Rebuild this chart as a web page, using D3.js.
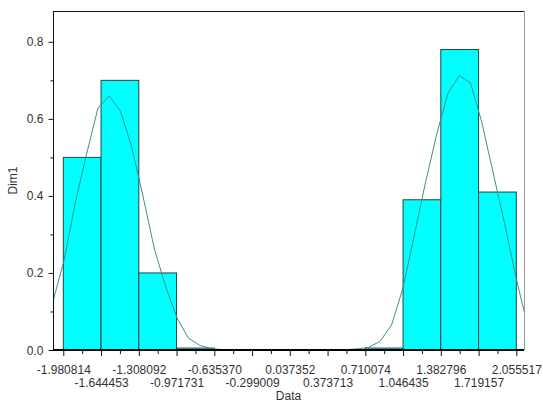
<!DOCTYPE html>
<html><head><meta charset="utf-8">
<script src="https://cdn.jsdelivr.net/npm/d3@7"></script>
<style>body{margin:0;background:#fff}svg{display:block}text{font-family:"Liberation Sans",Arial,sans-serif}</style>
</head><body>
<script>
const binEdges = [-1.980814,-1.644453,-1.308092,-0.971731,-0.635370,-0.299009,0.037352,0.373713,0.710074,1.046435,1.382796,1.719157,2.055517];
const tickLabels = ["-1.980814","-1.644453","-1.308092","-0.971731","-0.635370","-0.299009","0.037352","0.373713","0.710074","1.046435","1.382796","1.719157","2.055517"];
const barValues = [0.5,0.7,0.2,0.005,0,0,0,0,0.005,0.39,0.78,0.41];
const curveX = [-2.074,-1.973,-1.873,-1.772,-1.672,-1.571,-1.470,-1.370,-1.269,-1.169,-1.068,-0.967,-0.867,-0.766,-0.666,-0.565,-0.464,-0.364,-0.263,-0.163,-0.062,0.039,0.139,0.240,0.340,0.441,0.542,0.642,0.743,0.843,0.944,1.045,1.145,1.246,1.346,1.447,1.548,1.648,1.749,1.849,1.950,2.051,2.151];
const curveY = [0.125,0.234,0.384,0.51,0.628,0.66,0.619,0.525,0.397,0.262,0.164,0.083,0.031,0.012,0.004,0.001,0,0,0,0,0,0,0,0,0,0,0.001,0.003,0.007,0.023,0.065,0.16,0.296,0.434,0.56,0.667,0.712,0.693,0.59,0.46,0.33,0.19,0.07];
const yTicks = [0,0.2,0.4,0.6,0.8];
const yMinor = [0.1,0.3,0.5,0.7];

const W=543,H=405;
const m={l:53,r:19,t:11,b:55};
const svg=d3.select("body").append("svg").attr("width",W).attr("height",H);
const x=d3.scaleLinear().domain([-2.0726,2.124]).range([m.l,W-m.r]);
const y=d3.scaleLinear().domain([0,0.88]).range([H-m.b,m.t]);
const x0=x.range()[0],x1=x.range()[1],y0=y.range()[0],y1=y.range()[1];

svg.append("defs").append("clipPath").attr("id","clip").append("rect")
  .attr("x",x0).attr("y",y1).attr("width",x1-x0).attr("height",y0-y1);

// bars
svg.append("g").selectAll("rect").data(barValues).join("rect")
  .attr("x",(d,i)=>x(binEdges[i]))
  .attr("width",(d,i)=>x(binEdges[i+1])-x(binEdges[i]))
  .attr("y",d=>y(d)).attr("height",d=>y(0)-y(d))
  .attr("fill",d=>d>0?"#00ffff":"none")
  .attr("stroke",d=>d>0?"#1f4545":"none").attr("stroke-width",1);

// curve
svg.append("path").datum(curveX.map((v,i)=>[v,curveY[i]]))
  .attr("clip-path","url(#clip)")
  .attr("d",d3.line().x(d=>x(d[0])).y(d=>y(d[1])))
  .attr("fill","none").attr("stroke","#3e8f8f").attr("stroke-width",1);

// frame
svg.append("line").attr("x1",x0).attr("x2",x1).attr("y1",y1+0.5).attr("y2",y1+0.5).attr("stroke","#111");
svg.append("line").attr("x1",x1+0.5).attr("x2",x1+0.5).attr("y1",y1).attr("y2",y0).attr("stroke","#999");

// y axis
const ya=svg.append("g").attr("transform",`translate(${x0+0.5},0)`);
ya.append("line").attr("y1",y1).attr("y2",y0).attr("stroke","#111");
ya.selectAll(".mj").data(yTicks).join("line").attr("x1",-5).attr("x2",0)
  .attr("y1",d=>y(d)+0.5).attr("y2",d=>y(d)+0.5).attr("stroke","#111");
ya.selectAll(".mn").data(yMinor).join("line").attr("class","mn").attr("x1",-3).attr("x2",0)
  .attr("y1",d=>y(d)+0.5).attr("y2",d=>y(d)+0.5).attr("stroke","#111");
ya.selectAll("text").data(yTicks).join("text").attr("x",-10).attr("y",d=>y(d)+4.5)
  .attr("text-anchor","end").attr("font-size",12).attr("fill","#333").text(d=>d.toFixed(1));
svg.append("text").attr("transform",`translate(17,${(y0+y1)/2}) rotate(-90)`)
  .attr("text-anchor","middle").attr("font-size",12).attr("fill","#333").text("Dim1");

// x axis
const xa=svg.append("g");
xa.append("line").attr("x1",x0).attr("x2",x1).attr("y1",y0).attr("y2",y0).attr("stroke","#000").attr("stroke-width",2);
xa.selectAll(".mj").data(binEdges).join("line").attr("class","mj")
  .attr("x1",d=>x(d)+0.5).attr("x2",d=>x(d)+0.5).attr("y1",y0).attr("y2",y0+6).attr("stroke","#111");
const mids=binEdges.slice(0,-1).map((d,i)=>(d+binEdges[i+1])/2);
xa.selectAll(".mn").data(mids).join("line").attr("class","mn")
  .attr("x1",d=>x(d)+0.5).attr("x2",d=>x(d)+0.5).attr("y1",y0).attr("y2",y0+4).attr("stroke","#111");
xa.selectAll("text").data(binEdges).join("text")
  .attr("x",d=>x(d)+0.5).attr("y",(d,i)=>i%2===0?374:387)
  .attr("text-anchor","middle").attr("font-size",12).attr("fill","#333").text((d,i)=>tickLabels[i]);
svg.append("text").attr("x",(x0+x1)/2).attr("y",400).attr("text-anchor","middle")
  .attr("font-size",12).attr("fill","#333").text("Data");
</script>
</body></html>
